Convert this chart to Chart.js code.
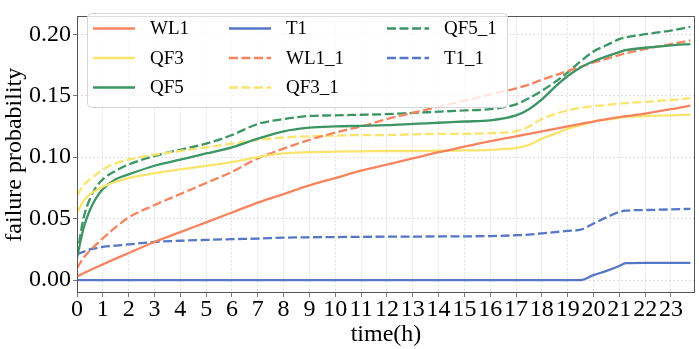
<!DOCTYPE html>
<html>
<head>
<meta charset="utf-8">
<script src="https://cdn.jsdelivr.net/npm/chart.js@4"></script>
<style>
  html, body { margin: 0; padding: 0; background: #fff; }
  #wrap { width: 699px; height: 349px; }
</style>
</head>
<body>
<div id="wrap"><canvas id="failureChart" width="699" height="349"></canvas></div>
<script>
// time axis (hours)
const hours = [0, 0.25, 0.5, 0.75, 1, 1.5, 2, 3, 4, 5, 6, 7, 8, 9, 10, 11, 12, 13, 14, 15, 16, 17, 17.5, 18, 18.5, 19, 19.5, 20, 20.5, 21, 21.25, 22, 23, 23.75];

const wl1 = [0.003, 0.0055, 0.008, 0.0105, 0.0128, 0.0175, 0.022, 0.031, 0.039, 0.047, 0.055, 0.063, 0.070, 0.077, 0.083, 0.089, 0.094, 0.099, 0.104, 0.1085, 0.113, 0.117, 0.119, 0.121, 0.123, 0.125, 0.127, 0.129, 0.131, 0.1325, 0.1333, 0.1355, 0.139, 0.142];
const qf3 = [0.055, 0.064, 0.070, 0.073, 0.076, 0.080, 0.083, 0.087, 0.090, 0.093, 0.096, 0.100, 0.103, 0.104, 0.1045, 0.1047, 0.105, 0.105, 0.1052, 0.1055, 0.106, 0.1075, 0.110, 0.115, 0.119, 0.123, 0.126, 0.129, 0.1305, 0.132, 0.1327, 0.1335, 0.134, 0.1345];
const qf5 = [0.018, 0.042, 0.057, 0.067, 0.074, 0.082, 0.086, 0.093, 0.098, 0.103, 0.108, 0.115, 0.121, 0.124, 0.125, 0.1255, 0.126, 0.127, 0.128, 0.129, 0.130, 0.134, 0.139, 0.147, 0.157, 0.166, 0.173, 0.178, 0.182, 0.1855, 0.187, 0.189, 0.191, 0.192];
const t1 = [0, 0, 0, 0, 0, 0, 0, 0, 0, 0, 0, 0, 0, 0, 0, 0, 0, 0, 0, 0, 0, 0, 0, 0, 0, 0, 0, 0.004, 0.0075, 0.0115, 0.0138, 0.014, 0.014, 0.014];
const wl1_1 = [0.0096, 0.018, 0.024, 0.029, 0.034, 0.043, 0.051, 0.061, 0.070, 0.079, 0.088, 0.099, 0.107, 0.114, 0.120, 0.125, 0.131, 0.136, 0.141, 0.146, 0.151, 0.156, 0.159, 0.163, 0.1665, 0.170, 0.1735, 0.177, 0.180, 0.183, 0.1845, 0.188, 0.192, 0.195];
const qf3_1 = [0.069, 0.077, 0.082, 0.086, 0.090, 0.095, 0.098, 0.102, 0.105, 0.108, 0.111, 0.114, 0.116, 0.117, 0.1175, 0.118, 0.118, 0.1185, 0.119, 0.119, 0.1195, 0.121, 0.125, 0.131, 0.135, 0.138, 0.140, 0.1415, 0.1425, 0.1435, 0.144, 0.145, 0.1465, 0.148];
const qf5_1 = [0.020, 0.050, 0.066, 0.076, 0.082, 0.089, 0.094, 0.101, 0.106, 0.111, 0.118, 0.127, 0.131, 0.1335, 0.134, 0.1345, 0.135, 0.136, 0.137, 0.138, 0.139, 0.143, 0.148, 0.154, 0.161, 0.169, 0.178, 0.186, 0.191, 0.196, 0.1975, 0.200, 0.203, 0.206];
const t1_1 = [0.021, 0.023, 0.025, 0.026, 0.027, 0.028, 0.029, 0.031, 0.032, 0.0327, 0.0333, 0.0338, 0.0345, 0.0348, 0.035, 0.0352, 0.0353, 0.0354, 0.0355, 0.0356, 0.0358, 0.0365, 0.037, 0.038, 0.039, 0.040, 0.041, 0.046, 0.051, 0.0555, 0.0565, 0.057, 0.0575, 0.058];

const xTicks = [0, 1, 2, 3, 4, 5, 6, 7, 8, 9, 10, 11, 12, 13, 14, 15, 16, 17, 18, 19, 20, 21, 22, 23];
const yTicks = [0, 0.05, 0.10, 0.15, 0.20];

const ORANGE = '#f8845f';
const YELLOW = '#fbe46c';
const GREEN = '#3c9564';
const BLUE = '#5577c5';
const DASH = [9, 3.5];
const FONT = "'Liberation Serif', 'Times New Roman', serif";

const series = [
    { label: 'WL1', data: wl1, color: ORANGE, dashed: false },
    { label: 'QF3', data: qf3, color: YELLOW, dashed: false },
    { label: 'QF5', data: qf5, color: GREEN, dashed: false },
    { label: 'T1', data: t1, color: BLUE, dashed: false },
    { label: 'WL1_1', data: wl1_1, color: ORANGE, dashed: true },
    { label: 'QF3_1', data: qf3_1, color: YELLOW, dashed: true },
    { label: 'QF5_1', data: qf5_1, color: GREEN, dashed: true },
    { label: 'T1_1', data: t1_1, color: BLUE, dashed: true },
];

const datasets = series.map(s => ({
    label: s.label,
    data: hours.map((h, i) => ({ x: h, y: s.data[i] })),
    borderColor: s.color,
    backgroundColor: s.color,
    borderWidth: 2.3,
    borderDash: s.dashed ? DASH : [],
    pointRadius: 0,
    fill: false,
    cubicInterpolationMode: 'monotone',
}));

// frame around the plot area (all four spines)
const framePlugin = {
    id: 'frame',
    afterDatasetsDraw(chart) {
        const { ctx, chartArea: a } = chart;
        ctx.save();
        ctx.strokeStyle = '#555';
        ctx.lineWidth = 1;
        ctx.strokeRect(Math.round(a.left) + 0.5, Math.round(a.top) + 0.5,
            Math.round(a.right - a.left) - 1, Math.round(a.bottom - a.top) - 1);
        ctx.restore();
    }
};

// legend drawn inside the axes, 3 columns like matplotlib ncol=3
const legendPlugin = {
    id: 'insideLegend',
    afterDraw(chart) {
        const ctx = chart.ctx;
        const box = { x: 87, y: 13, w: 420, h: 94, r: 4 };
        ctx.save();
        ctx.beginPath();
        ctx.roundRect(box.x + 0.5, box.y + 0.5, box.w, box.h, box.r);
        ctx.fillStyle = 'rgba(255,255,255,0.8)';
        ctx.fill();
        ctx.strokeStyle = '#d6d6d6';
        ctx.lineWidth = 1;
        ctx.stroke();

        const colX = [93, 229, 387];
        const rowY = [28.5, 58, 87.5];
        ctx.font = '19px ' + FONT;
        ctx.textBaseline = 'middle';
        chart.data.datasets.forEach((ds, i) => {
            const c = Math.floor(i / 3);
            const r = i % 3;
            const x = colX[c];
            const y = rowY[r];
            ctx.beginPath();
            ctx.strokeStyle = ds.borderColor;
            ctx.lineWidth = 2.3;
            ctx.setLineDash(ds.borderDash);
            ctx.moveTo(x, y);
            ctx.lineTo(x + 42, y);
            ctx.stroke();
            ctx.setLineDash([]);
            ctx.fillStyle = '#000';
            ctx.fillText(ds.label, x + 57, y + 1);
        });
        ctx.restore();
    }
};

new Chart(document.getElementById('failureChart'), {
    type: 'line',
    data: { datasets: datasets },
    plugins: [framePlugin, legendPlugin],
    options: {
        responsive: false,
        animation: false,
        layout: { padding: { left: 0, right: 4, top: 5, bottom: 0 } },
        plugins: {
            legend: { display: false },
            tooltip: { enabled: false }
        },
        scales: {
            x: {
                type: 'linear',
                min: 0,
                max: 23.93,
                afterBuildTicks: (scale) => {
                    scale.ticks = xTicks.map(v => ({ value: v }));
                },
                afterFit: (scale) => { scale.height = 56; },
                ticks: {
                    autoSkip: false,
                    maxRotation: 0,
                    minRotation: 0,
                    padding: -2,
                    color: '#000',
                    font: { family: FONT, size: 24 },
                    callback: (v) => String(v)
                },
                grid: {
                    color: '#d9d9d9',
                    lineWidth: 0.8,
                    tickColor: '#555',
                    tickLength: 4,
                    tickBorderDash: []
                },
                border: { display: false, dash: [2, 2] },
                title: {
                    display: true,
                    text: 'time(h)',
                    color: '#000',
                    font: { family: FONT, size: 24 },
                    padding: { top: -4, bottom: 0 }
                }
            },
            y: {
                min: -0.0105,
                max: 0.2145,
                afterBuildTicks: (scale) => {
                    scale.ticks = yTicks.map(v => ({ value: v }));
                },
                afterFit: (scale) => { scale.width = 77; },
                ticks: {
                    padding: 2,
                    color: '#000',
                    font: { family: FONT, size: 24 },
                    callback: (v) => v.toFixed(2)
                },
                grid: {
                    color: '#d9d9d9',
                    lineWidth: 0.8,
                    tickColor: '#555',
                    tickLength: 4,
                    tickBorderDash: []
                },
                border: { display: false, dash: [2, 2] },
                title: {
                    display: true,
                    text: 'failure probability',
                    color: '#000',
                    font: { family: FONT, size: 24 },
                    padding: { top: 0, bottom: 0 }
                }
            }
        }
    }
});
</script>
</body>
</html>
